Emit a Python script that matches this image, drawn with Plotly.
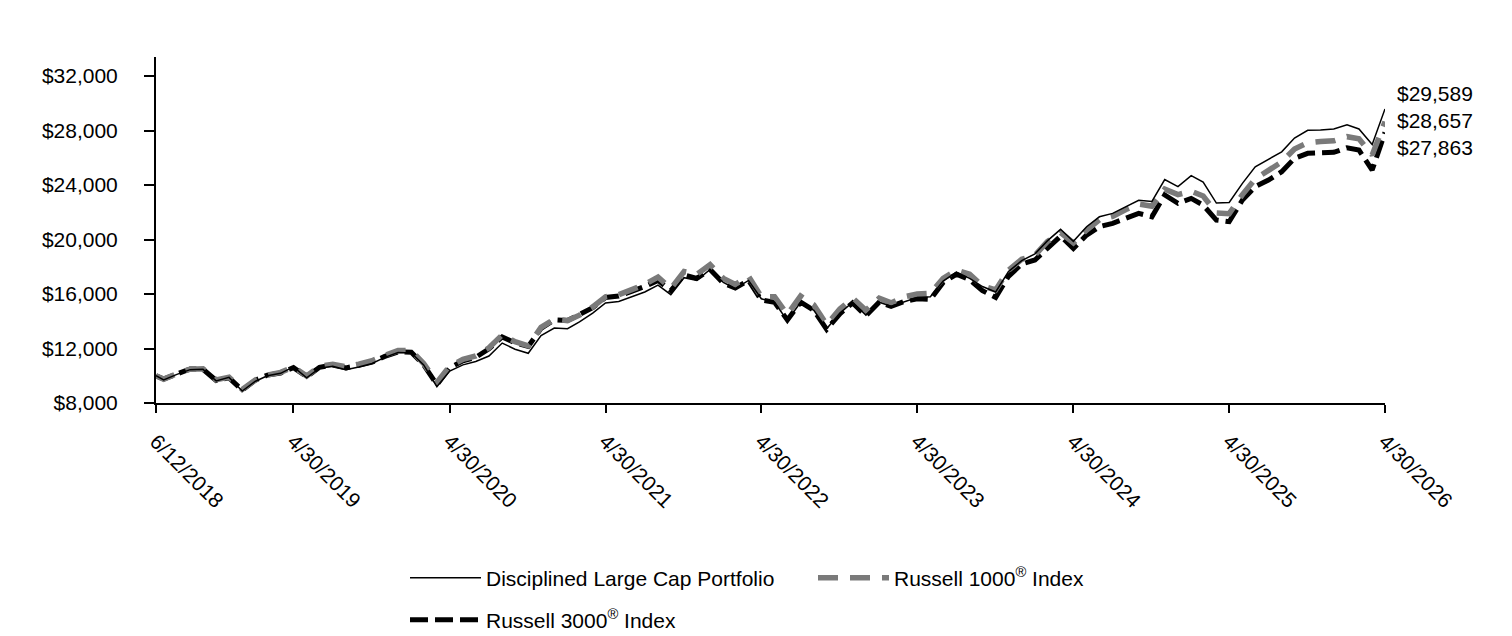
import pandas as pd
import plotly.graph_objects as go

# ---- data ----
start_date = ["2018-06-12"]
month_ends = [d.strftime("%Y-%m-%d") for d in pd.date_range("2018-06-30", "2026-04-30", freq="ME")]
dates = start_date + month_ends

portfolio = [
    10000, 9700, 10100, 10450, 10470, 9620, 9880, 8880,
    9600, 10000, 10180, 10650, 9850, 10550, 10700, 10450, 10650, 10900, 11350, 11700,
    11680, 10800, 9200, 10350, 10800, 11050, 11450, 12400, 11950, 11650, 12950, 13500,
    13450, 13950, 14600, 15350, 15450, 15800, 16150, 16650, 15950, 17200, 17000, 17800,
    16850, 16400, 17000, 15650, 15400, 14050, 15400, 14800, 13450, 14600, 15400, 14450,
    15400, 15100, 15450, 15750, 15800, 16950, 17600, 17150, 16550, 16150, 17650, 18450,
    18950, 19900, 20750, 19870, 20940, 21670, 21920, 22410, 22880, 22800, 24400, 23880,
    24690, 24220, 22680, 22720, 24120, 25340, 25900, 26440, 27450, 28020, 28050, 28120,
    28420, 28120, 26980, 29589,
]

russell_1000 = [
    10000, 9750, 10150, 10480, 10520, 9700, 9900, 9000,
    9700, 10050, 10250, 10650, 9980, 10700, 10850, 10650, 10850, 11100, 11500, 11850,
    11850, 10900, 9500, 10700, 11200, 11450, 12050, 13000, 12500, 12200, 13550, 14150,
    14050, 14450, 15050, 15800, 15950, 16350, 16700, 17250, 16400, 17650, 17450, 18150,
    17150, 16700, 17300, 15800, 15800, 14500, 15850, 15200, 13750, 14900, 15700, 14800,
    15700, 15350, 15800, 16000, 16050, 17150, 17750, 17450, 16600, 16300, 17750, 18550,
    18850, 19850, 20500, 19750, 20700, 21450, 21700, 22200, 22600, 22450, 23700, 23300,
    23550, 23200, 21950, 21900, 23300, 24450, 25050, 25700, 26650, 27100, 27200, 27250,
    27550, 27400, 26200, 28657,
]

russell_3000 = [
    10000, 9750, 10130, 10500, 10480, 9650, 9850, 8950,
    9680, 10050, 10200, 10600, 9930, 10620, 10780, 10580, 10770, 11000, 11420, 11750,
    11720, 10800, 9350, 10580, 11100, 11350, 11980, 12850, 12420, 12150, 13480, 14100,
    14050, 14460, 15000, 15750, 15850, 16200, 16550, 17000, 16250, 17400, 17150, 17800,
    16800, 16450, 17000, 15560, 15400, 14100, 15400, 14800, 13400, 14550, 15350, 14400,
    15400, 15100, 15450, 15650, 15600, 16850, 17450, 17050, 16250, 15750, 17300, 18200,
    18500, 19350, 20250, 19350, 20330, 20940, 21190, 21560, 21920, 21670, 23270, 22660,
    23020, 22530, 21430, 21310, 22900, 23880, 24370, 24980, 25960, 26330, 26330, 26400,
    26740, 26570, 25100, 27863,
]

x_tick_vals = ["2018-06-12", "2019-04-30", "2020-04-30", "2021-04-30", "2022-04-30",
               "2023-04-30", "2024-04-30", "2025-04-30", "2026-04-30"]
x_tick_text = ["6/12/2018", "4/30/2019", "4/30/2020", "4/30/2021", "4/30/2022",
               "4/30/2023", "4/30/2024", "4/30/2025", "4/30/2026"]
y_tick_vals = [8000, 12000, 16000, 20000, 24000, 28000, 32000]
y_tick_text = ["$8,000", "$12,000", "$16,000", "$20,000", "$24,000", "$28,000", "$32,000"]

names = ["Disciplined Large Cap Portfolio", "Russell 1000<sup>®</sup> Index", "Russell 3000<sup>®</sup> Index"]
end_labels = ["$29,589", "$28,657", "$27,863"]

FONT = "Liberation Sans, Arial, sans-serif"

fig = go.Figure()
fig.add_trace(go.Scatter(x=dates, y=russell_3000, name=names[2], mode="lines",
                         line=dict(color="#000000", width=5, dash="18px,7px"),
                         legend="legend2", legendrank=3, hoverinfo="skip"))
fig.add_trace(go.Scatter(x=dates, y=russell_1000, name=names[1], mode="lines",
                         line=dict(color="#7a7a7a", width=5.5, dash="20px,12px"),
                         legend="legend", legendrank=2, hoverinfo="skip"))
fig.add_trace(go.Scatter(x=dates, y=portfolio, name=names[0], mode="lines",
                         line=dict(color="#000000", width=1.5),
                         legend="legend", legendrank=1, hoverinfo="skip"))

last_x = dates[-1]
mid_val = russell_1000[-1]
for txt, shift in zip(end_labels, [28, 1, -26]):
    fig.add_annotation(x=last_x, y=mid_val, xref="x", yref="y", text=txt,
                       showarrow=False, xanchor="left", yanchor="middle",
                       xshift=10, yshift=shift,
                       font=dict(family=FONT, size=21, color="#000000"))

LEG_X = 405 / 1512
fig.update_layout(
    width=1512, height=636,
    margin=dict(l=156, r=127, t=57, b=233, autoexpand=False),
    paper_bgcolor="white", plot_bgcolor="white",
    font=dict(family=FONT, size=21, color="#000000"),
    showlegend=True,
    legend=dict(orientation="h", xref="container", yref="container",
                x=LEG_X, xanchor="left", y=1 - 578 / 636, yanchor="middle",
                itemwidth=71, entrywidth=322, entrywidthmode="pixels",
                font=dict(family=FONT, size=21), bgcolor="rgba(0,0,0,0)"),
    legend2=dict(orientation="h", xref="container", yref="container",
                 x=LEG_X, xanchor="left", y=1 - 620 / 636, yanchor="middle",
                 itemwidth=71,
                 font=dict(family=FONT, size=21), bgcolor="rgba(0,0,0,0)"),
    xaxis=dict(type="date", range=["2018-06-12", "2026-04-30"],
               tickvals=x_tick_vals, ticktext=x_tick_text, tickangle=45,
               showgrid=False, zeroline=False,
               showline=True, linecolor="#000000", linewidth=2,
               ticks="outside", ticklen=8, tickwidth=2, tickcolor="#000000",
               ticklabelstandoff=8, automargin=False,
               tickfont=dict(family=FONT, size=21)),
    yaxis=dict(range=[8000, 33400], tickvals=y_tick_vals, ticktext=y_tick_text,
               showgrid=False, zeroline=False,
               showline=True, linecolor="#000000", linewidth=2,
               ticks="outside", ticklen=10, tickwidth=2, tickcolor="#000000",
               ticklabelstandoff=22, automargin=False,
               tickfont=dict(family=FONT, size=21)),
)

fig.write_html("out.html")
